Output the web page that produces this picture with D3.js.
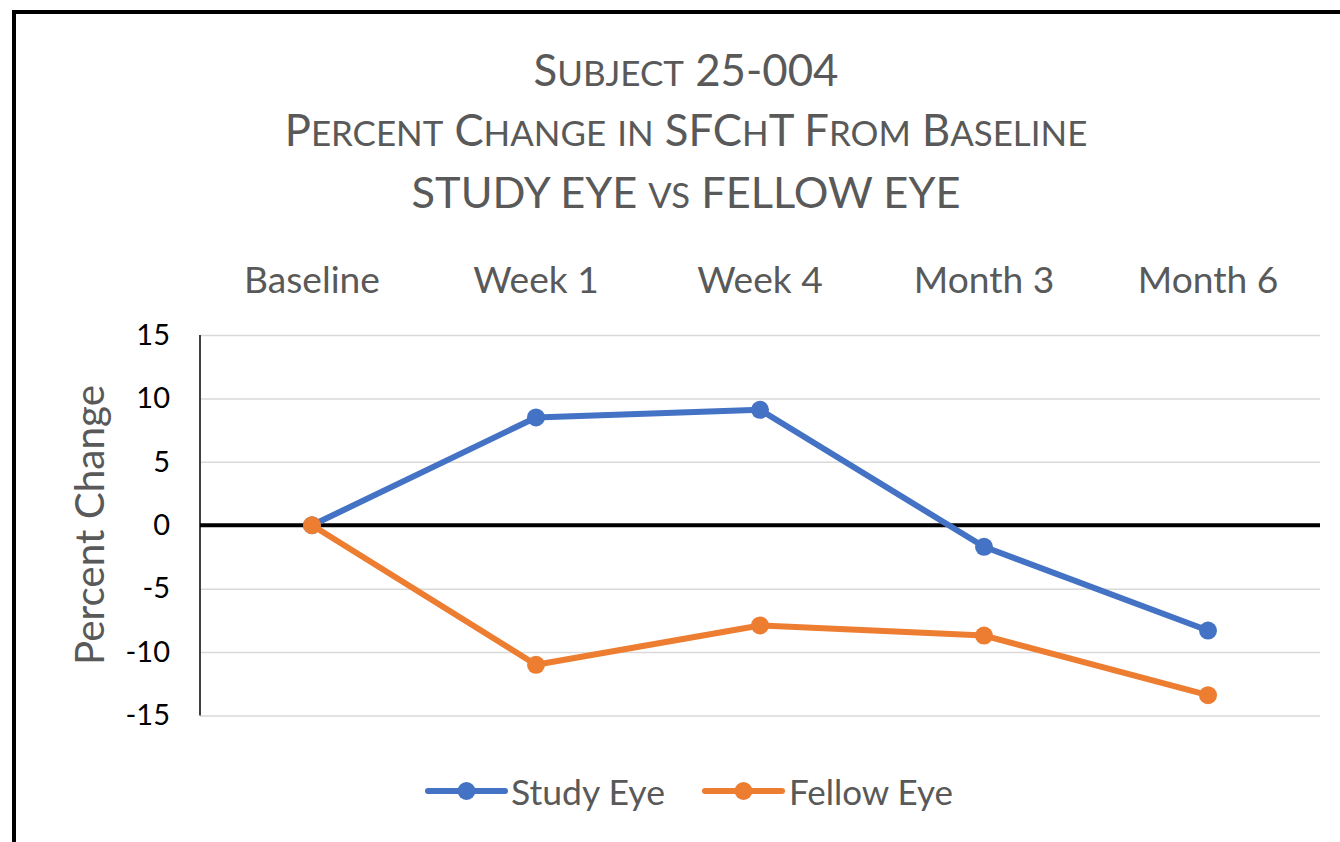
<!DOCTYPE html>
<html>
<head>
<meta charset="utf-8">
<script src="https://cdn.jsdelivr.net/npm/d3@7"></script>
<style>
  html, body { margin: 0; padding: 0; background: #fff; }
  svg { display: block; font-family: Lato, "Open Sans", sans-serif; }
</style>
</head>
<body>
<svg id="chart" width="1340" height="842"></svg>
<script>
// Chart data
const categories = ["Baseline", "Week 1", "Week 4", "Month 3", "Month 6"];
const studyEye   = [0, 8.5, 9.1, -1.7, -8.3];
const fellowEye  = [0, -11.0, -7.9, -8.7, -13.4];
const yTicks     = [15, 10, 5, 0, -5, -10, -15];
const seriesNames  = ["Study Eye", "Fellow Eye"];
const seriesColors = ["#4472C4", "#ED7D31"];
const titleLines = ["Subject 25-004", "Percent Change in SFChT From Baseline", "STUDY EYE vs FELLOW EYE"];

const TEXT = "#595959";
const svg = d3.select("#chart");

// outer frame
svg.append("rect")
  .attr("x", 14).attr("y", 12).attr("width", 1400).attr("height", 900)
  .attr("fill", "none").attr("stroke", "#000").attr("stroke-width", 4);

const plot = { left: 200, right: 1320, top: 335, bottom: 715.5 };
const x = d3.scaleBand().domain(categories).range([plot.left, plot.right]);
const y = d3.scaleLinear().domain([-15, 15]).range([plot.bottom, plot.top]);
const cx = c => x(c) + x.bandwidth() / 2;

// scale a text element's font size so it spans the given width
function fit(sel, w) {
  const len = sel.node().getComputedTextLength();
  const fs = parseFloat(sel.attr("font-size"));
  sel.attr("font-size", fs * w / len);
  return sel;
}

// small-caps: lowercase runs drawn as smaller capitals
function smallCaps(textSel, str, ratio) {
  const runs = str.match(/[a-z]+|[^a-z]+/g);
  runs.forEach(r => {
    const lower = /[a-z]/.test(r[0]);
    textSel.append("tspan")
      .attr("font-size", lower ? ratio + "em" : "1em")
      .text(r.toUpperCase());
  });
}

// titles
const titleSpec = [
  { baseline: 86, width: 305 },
  { baseline: 146, width: 803 },
  { baseline: 208, width: 549 }
];
titleLines.forEach((t, i) => {
  const el = svg.append("text")
    .attr("x", 686).attr("y", titleSpec[i].baseline)
    .attr("text-anchor", "middle")
    .attr("fill", TEXT)
    .attr("font-weight", 400)
    .attr("font-size", 36);
  smallCaps(el, t, 0.8);
  fit(el, titleSpec[i].width);
});

// gridlines
svg.append("g")
  .attr("transform", `translate(${plot.left},0)`)
  .call(d3.axisLeft(y).tickValues(yTicks).tickSize(-(plot.right - plot.left)).tickFormat(""))
  .call(g => g.select(".domain").remove())
  .call(g => g.selectAll("line").attr("stroke", "#D9D9D9").attr("stroke-width", 1.5));

// y tick labels (plain hyphen for negatives)
const yAxis = svg.append("g")
  .attr("transform", `translate(170,0)`)
  .call(d3.axisLeft(y).tickValues(yTicks).tickSize(0).tickPadding(0).tickFormat(d => String(d)))
  .call(g => g.select(".domain").remove());
yAxis.selectAll("text")
  .attr("fill", "#000").attr("font-size", 29)
  .attr("font-family", "Lato, 'Open Sans', sans-serif");

// vertical axis line
svg.append("line")
  .attr("x1", plot.left).attr("x2", plot.left)
  .attr("y1", y(15)).attr("y2", y(-15))
  .attr("stroke", "#404040").attr("stroke-width", 2);

// category axis along zero, labels placed above the plot
svg.append("line")
  .attr("x1", plot.left).attr("x2", plot.right)
  .attr("y1", y(0)).attr("y2", y(0))
  .attr("stroke", "#000").attr("stroke-width", 4);

const catLabels = svg.append("g").selectAll("text")
  .data(categories).join("text")
  .attr("x", d => cx(d)).attr("y", 293)
  .attr("text-anchor", "middle")
  .attr("fill", TEXT).attr("font-size", 30)
  .text(d => d);
// size all category labels together from the first one
{
  const first = d3.select(catLabels.nodes()[0]);
  const len = first.node().getComputedTextLength();
  catLabels.attr("font-size", 30 * 136 / len);
}

// y axis title
fit(svg.append("text")
  .attr("transform", "translate(88,525) rotate(-90)")
  .attr("text-anchor", "middle")
  .attr("dominant-baseline", "central")
  .attr("fill", TEXT).attr("font-size", 30)
  .text("Percent Change"), 280);

// series lines and markers
const line = d3.line().x((d, i) => cx(categories[i])).y(d => y(d));
[studyEye, fellowEye].forEach((vals, s) => {
  const g = svg.append("g");
  g.append("path")
    .datum(vals)
    .attr("d", line)
    .attr("fill", "none")
    .attr("stroke", seriesColors[s])
    .attr("stroke-width", 6)
    .attr("stroke-linejoin", "round")
    .attr("stroke-linecap", "round");
  g.selectAll("circle").data(vals).join("circle")
    .attr("cx", (d, i) => cx(categories[i]))
    .attr("cy", d => y(d))
    .attr("r", 9)
    .attr("fill", seriesColors[s]);
});

// legend
const legendSpec = [
  { x0: 428, x1: 505, textX: 511, width: 154 },
  { x0: 705, x1: 782, textX: 789, width: 164 }
];
const legendY = 791;
seriesNames.forEach((name, s) => {
  const L = legendSpec[s];
  const g = svg.append("g");
  g.append("line")
    .attr("x1", L.x0).attr("x2", L.x1)
    .attr("y1", legendY).attr("y2", legendY)
    .attr("stroke", seriesColors[s]).attr("stroke-width", 6)
    .attr("stroke-linecap", "round");
  g.append("circle")
    .attr("cx", (L.x0 + L.x1) / 2).attr("cy", legendY).attr("r", 9)
    .attr("fill", seriesColors[s]);
  fit(g.append("text")
    .attr("x", L.textX).attr("y", legendY)
    .attr("dominant-baseline", "central")
    .attr("fill", TEXT).attr("font-size", 30)
    .text(name), L.width);
});
</script>
</body>
</html>
